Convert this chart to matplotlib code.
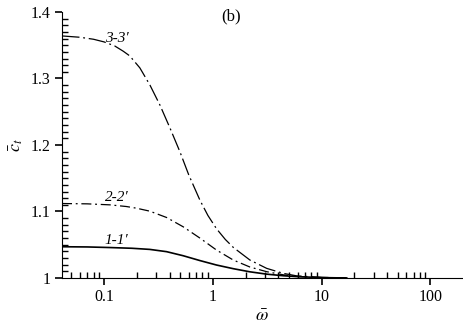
import matplotlib
matplotlib.use('Agg')
import matplotlib.pyplot as plt
from matplotlib.ticker import FixedLocator, MultipleLocator, LogLocator, NullFormatter

plt.rcParams['font.family'] = 'Liberation Serif'
plt.rcParams['mathtext.fontset'] = 'stix'

# curve 1-1'
w1 = [0.041, 0.07, 0.113, 0.18, 0.263, 0.375, 0.533, 0.76, 1.08, 1.54, 2.19, 3.12, 4.43, 6, 10, 17]
c1 = [1.047, 1.0467, 1.0458, 1.0447, 1.0430, 1.0396, 1.0335, 1.0262, 1.0195, 1.0140, 1.0093, 1.0058, 1.0034, 1.002, 1.0006, 1.0]
# curve 2-2'
w2 = [0.041, 0.07, 0.113, 0.16, 0.198, 0.263, 0.375, 0.533, 0.76, 1.08, 1.54, 2.19, 3.12, 4.43, 6, 10, 17]
c2 = [1.112, 1.1115, 1.110, 1.1075, 1.105, 1.1005, 1.091, 1.077, 1.060, 1.042, 1.027, 1.0165, 1.0095, 1.0048, 1.0022, 1.0006, 1.0]
# curve 3-3'
w3 = [0.041, 0.06, 0.08, 0.1, 0.125, 0.15, 0.172, 0.213, 0.264, 0.326, 0.402, 0.497, 0.6, 0.76, 0.9, 1.08, 1.3, 1.54, 2.19, 3.12, 4.43, 5.9, 10, 17]
c3 = [1.364, 1.362, 1.359, 1.355, 1.349, 1.341, 1.334, 1.316, 1.290, 1.260, 1.226, 1.190, 1.155, 1.117, 1.094, 1.074, 1.058, 1.046, 1.027, 1.0145, 1.007, 1.0032, 1.001, 1.0]

y_ticks = [1.0, 1.1, 1.2, 1.3, 1.4]
y_ticklabels = ['1', '1.1', '1.2', '1.3', '1.4']
x_ticks = [0.1, 1, 10, 100]
x_ticklabels = ['0.1', '1', '10', '100']

fig = plt.figure(figsize=(4.63, 3.27), dpi=100)
ax = fig.add_axes([62/463, 49/327, 400/463, 266/327])

ax.plot(w1, c1, color='black', lw=1.2)
ax.plot(w2, c2, color='black', lw=0.9, dashes=(8, 3, 1.5, 3))
ax.plot(w3, c3, color='black', lw=0.9, dashes=(14, 3, 1.5, 3))

ax.set_xscale('log')
ax.set_xlim(0.041, 195)
ax.set_ylim(1.0, 1.4)

ax.spines['top'].set_visible(False)
ax.spines['right'].set_visible(False)

ax.xaxis.set_major_locator(FixedLocator(x_ticks))
ax.set_xticklabels(x_ticklabels)
ax.xaxis.set_minor_locator(LogLocator(base=10, subs=range(2, 10), numticks=20))
ax.xaxis.set_minor_formatter(NullFormatter())
ax.set_yticks(y_ticks)
ax.set_yticklabels(y_ticklabels)
ax.yaxis.set_minor_locator(MultipleLocator(0.01))

ax.tick_params(which='major', direction='out', length=5, width=1.2, labelsize=11.5, pad=3)
ax.tick_params(which='minor', direction='in', length=4, width=1.0)

ax.set_xlabel(r'$\bar{\omega}$', fontsize=13, labelpad=2)
ax.set_ylabel(r'$\bar{c}_t$', fontsize=13, labelpad=4)

ax.text(0.101, 1.351, '3-3\u2032', style='italic', fontsize=11, ha='left', va='bottom')
ax.text(0.101, 1.111, '2-2\u2032', style='italic', fontsize=11, ha='left', va='bottom')
ax.text(0.101, 1.047, '1-1\u2032', style='italic', fontsize=11, ha='left', va='bottom')
ax.text(1.46, 1.393, '(b)', fontsize=12, ha='center', va='center')

plt.savefig('out.png', dpi=100)
plt.close()
